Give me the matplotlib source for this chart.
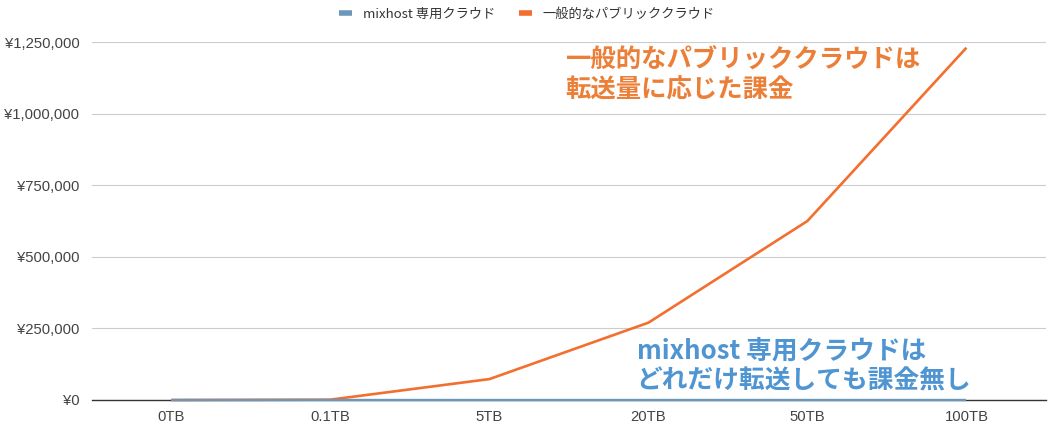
import matplotlib.pyplot as plt
import numpy as np
from matplotlib.ticker import FuncFormatter

plt.rcParams['font.family'] = ['Noto Sans CJK JP', 'DejaVu Sans']

categories = ['0TB', '0.1TB', '5TB', '20TB', '50TB', '100TB']
mixhost = [0, 0, 0, 0, 0, 0]
public_cloud = [0, 1200, 73000, 270000, 625000, 1230000]
yticks = [0, 250000, 500000, 750000, 1000000, 1250000]

blue = '#6b97bb'
orange = '#f26f2f'

fig = plt.figure(figsize=(10.5, 4.3), dpi=100)
ax = fig.add_axes([0.0876, 0.0698, 0.9085, 0.8325])

x = np.arange(len(categories))
ax.plot(x, public_cloud, color=orange, linewidth=1.9, label='一般的なパブリッククラウド',
        solid_capstyle='butt', zorder=3, clip_on=False)
ax.plot(x, mixhost, color=blue, linewidth=1.7, label='mixhost 専用クラウド',
        solid_capstyle='butt', zorder=4, clip_on=False)

ax.set_xlim(-0.5, len(categories) - 0.5)
ax.set_ylim(0, 1250000)
ax.set_xticks(x)
ax.set_xticklabels(categories)
ax.set_yticks(yticks)
ax.yaxis.set_major_formatter(FuncFormatter(lambda v, p: '¥{:,.0f}'.format(v)))

for side in ['top', 'right', 'left']:
    ax.spines[side].set_visible(False)
ax.spines['bottom'].set_color('#333333')
ax.spines['bottom'].set_linewidth(1.0)
ax.grid(axis='y', color='#cccccc', linewidth=0.8)
ax.set_axisbelow(True)
ax.tick_params(length=0, labelsize=10.7, labelcolor='#444444')
ax.tick_params(axis='y', pad=9)
ax.tick_params(axis='x', pad=7)
for lab in ax.get_xticklabels() + ax.get_yticklabels():
    lab.set_family(['Liberation Sans', 'Noto Sans CJK JP'])

handles, labels = ax.get_legend_handles_labels()
fig.legend(handles[::-1], labels[::-1], loc='upper center', bbox_to_anchor=(0.502, 1.01),
           ncol=2, frameon=False, fontsize=9.5, handlelength=1.0, handleheight=0.5,
           columnspacing=1.8, handletextpad=0.8, labelcolor='#333333')
for line in fig.legends[0].get_lines():
    line.set_linewidth(4)

ax.text(0.496, 0.99, '一般的なパブリッククラウドは\n転送量に応じた課金', transform=ax.transAxes,
        ha='left', va='top', fontsize=18.3, fontweight='bold', color='#ec7f38',
        linespacing=1.2)
ax.text(0.571, 0.175, 'mixhost 専用クラウドは\nどれだけ転送しても課金無し', transform=ax.transAxes,
        ha='left', va='top', fontsize=18.5, fontweight='bold', color='#4f95d2',
        linespacing=1.15)

fig.savefig('out.png', dpi=100)
